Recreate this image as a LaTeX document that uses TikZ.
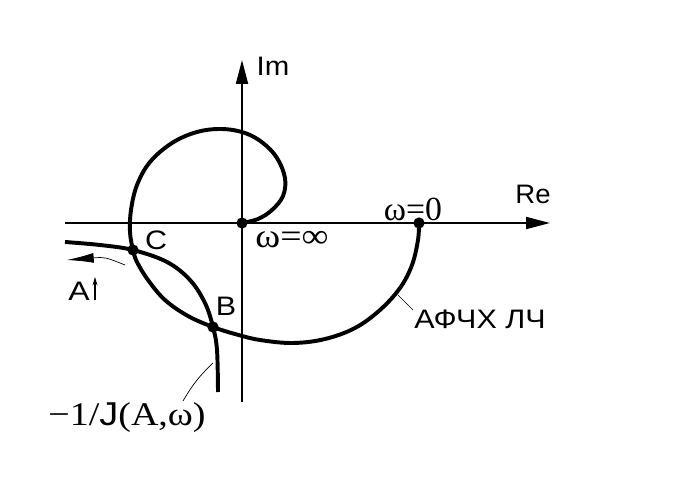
\documentclass[tikz,border=0pt]{standalone}
\usepackage{fontspec}
\setmainfont{Liberation Serif}
\setsansfont{Liberation Sans}
\usetikzlibrary{arrows.meta}
\newcommand\wide[2][1.14]{\scalebox{#1}[1]{#2}}
\tikzset{
	axis/.style={line width=1.4pt, -{Triangle[length=17pt,width=8.5pt]}},
	curve/.style={line width=2.8pt, line join=round},
	leader/.style={line width=0.5pt},
	dot/.style={circle, fill, inner sep=0pt, minimum size=8pt},
	lab/.style={font=\sffamily\fontsize{19}{21}\selectfont, inner sep=0pt, anchor=base},
	wlab/.style={font=\fontsize{24}{26}\selectfont, inner sep=0pt, anchor=base},
}
\begin{document}
	\begin{tikzpicture}[x=0.025cm, y=-0.025cm]
		\useasboundingbox (0,0) rectangle (692,493);
		% axes
		\coordinate (O) at (242,223);
		\coordinate (reL) at (65,223);
		\coordinate (reR) at (550,223);
		\coordinate (imB) at (242,402);
		\coordinate (imT) at (242,60);
		\draw[axis] (reL) -- (reR);
		\draw[axis] (imB) -- (imT);
		% special points
		\coordinate (w0) at (419,223);
		\coordinate (C) at (133,250);
		\coordinate (B) at (213,327);
		% frequency response
		\draw[curve] plot[smooth, tension=0.6] coordinates {(w0) (418,240) (412,265) (400,288) (380,310) (355,328) (325,339) (293,343) (260,340) (235,334) (B) (188,316) (165,300) (148,280) (137,262) (C) (130,232) (131,210) (137,185) (150,162) (172,143) (197,132) (222,129) (245,133) (263,143) (277,158) (285,178) (283,196) (272,210) (258,219) (O)};
		% -1/J(A,w)
		\coordinate (jL) at (65,242);
		\coordinate (jE) at (218,392);
		\draw[curve] plot[smooth, tension=0.6] coordinates {(jL) (100,245) (C) (167,262) (190,280) (205,303) (B) (217,350) (jE)};
		\foreach \p in {O,w0,C,B}
			\node[dot] at (\p) {};
		% labels
		\node[lab] (im) at (273,75) {\wide[1.1]{Im}};
		\node[lab] (re) at (533,203) {\wide[1.03]{Re}};
		\node[wlab] (lw0) at (413,220) {ω=0};
		\node[wlab] (lwinf) at (292,247) {\wide[1.12]{ω=∞}};
		\node[lab] (lC) at (156,249) {\wide{C}};
		\node[lab] (lB) at (226,315) {\wide{B}};
		\node[lab] (lafc) at (480,328) {\wide{АФЧХ ЛЧ}};
		\node[wlab, font=\fontsize{23.5}{25}\selectfont] (lj) at (127,425) {\wide[1.15]{−1/\textsf{J}(A,ω)}};
		\node[lab] (lA) at (79,300) {\wide[1.2]{A}};
		% leaders and arrows
		\coordinate (ja) at (213,363);
		\coordinate (jb) at (183,401);
		\draw[leader] (ja) to[bend right=8] (jb);
		\coordinate (fa) at (398,295);
		\coordinate (fb) at (413,310);
		\draw[leader] (fa) -- (fb);
		\coordinate (aS) at (125,265);
		\coordinate (aT) at (67,260);
		\draw[leader, -{Latex[length=19pt,width=7pt]}] (aS) .. controls (105,257) .. (aT);
		\coordinate (uS) at (95,300);
		\coordinate (uT) at (95,277);
		\draw[line width=0.8pt, -{Stealth[length=6pt,width=3.5pt]}] (uS) -- (uT);
	\end{tikzpicture}
\end{document}
